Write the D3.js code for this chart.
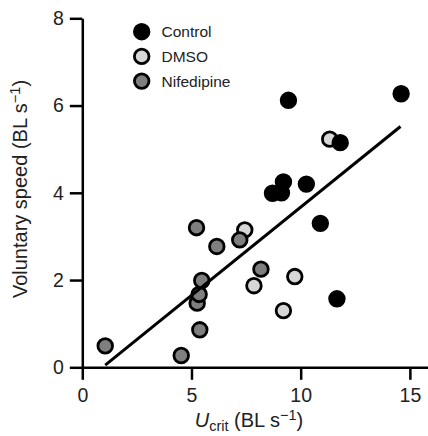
<!DOCTYPE html>
<html>
<head>
<meta charset="utf-8">
<script src="https://cdn.jsdelivr.net/npm/d3@7"></script>
<style>
  body { margin: 0; background: #fff; }
  text { font-family: "Liberation Sans", Arial, sans-serif; fill: #222; }
</style>
</head>
<body>
<svg id="chart"></svg>
<script>
// Data (Ucrit, voluntary speed), BL s-1
const controlPts = [
  [14.6, 6.27], [9.44, 6.12], [11.81, 5.15], [10.26, 4.2], [9.21, 4.25],
  [9.12, 4.0], [8.71, 3.99], [10.9, 3.3], [11.66, 1.57]
];
const dmsoPts = [
  [11.33, 5.23], [7.44, 3.15], [9.73, 2.08], [7.86, 1.87], [9.21, 1.3]
];
const nifedipinePts = [
  [1.05, 0.49], [4.53, 0.27], [5.38, 0.86], [5.26, 1.47], [5.35, 1.67],
  [5.47, 1.99], [5.23, 3.2], [6.16, 2.77], [7.21, 2.92], [8.18, 2.25]
];
const fitLine = [[1.05, 0.05], [14.57, 5.52]];
const xTicks = [0, 5, 10, 15];
const yTicks = [0, 2, 4, 6, 8];
const groups = ["Control", "DMSO", "Nifedipine"];

const W = 428, H = 436;
const margin = { top: 18.3, right: 0, bottom: 68.7, left: 82.3 };

const svg = d3.select("#chart").attr("width", W).attr("height", H);

const x = d3.scaleLinear().domain([0, 15.83]).range([margin.left, W - margin.right]);
const y = d3.scaleLinear().domain([0, 8]).range([H - margin.bottom, margin.top]);

const fills = { Control: "#000", DMSO: "#d6d6d6", Nifedipine: "#7f7f7f" };

// axes
const xAxis = svg.append("g")
  .attr("transform", `translate(0,${y(0)})`)
  .call(d3.axisBottom(x).tickValues(xTicks).tickSize(12.5).tickSizeOuter(0).tickPadding(8));
const yAxis = svg.append("g")
  .attr("transform", `translate(${x(0)},0)`)
  .call(d3.axisLeft(y).tickValues(yTicks).tickSize(12.5).tickSizeOuter(0).tickPadding(6));

[xAxis, yAxis].forEach(g => {
  g.selectAll("path, line").attr("stroke", "#000").attr("stroke-width", 2.5);
  g.selectAll("text").attr("font-size", 19.5).attr("fill", "#222")
    .attr("font-family", "Liberation Sans, Arial, sans-serif");
});

// points: DMSO first, then nifedipine, then control on top
const series = [
  { name: "DMSO", pts: dmsoPts },
  { name: "Nifedipine", pts: nifedipinePts },
  { name: "Control", pts: controlPts }
];
series.forEach(s => {
  svg.append("g").selectAll("circle")
    .data(s.pts)
    .enter()
    .append("circle")
    .attr("cx", d => x(d[0]))
    .attr("cy", d => y(d[1]))
    .attr("r", 7.3)
    .attr("fill", fills[s.name])
    .attr("stroke", "#000")
    .attr("stroke-width", 2.8);
});

// regression line
svg.append("path")
  .datum(fitLine)
  .attr("d", d3.line().x(d => x(d[0])).y(d => y(d[1])))
  .attr("stroke", "#000")
  .attr("stroke-width", 3)
  .attr("fill", "none");

// legend
const legend = svg.append("g");
groups.forEach((g, i) => {
  const cy = 31.7 + i * 24.7;
  legend.append("circle")
    .attr("cx", 141.7).attr("cy", cy).attr("r", 7.3)
    .attr("fill", fills[g]).attr("stroke", "#000").attr("stroke-width", 2.8);
  legend.append("text")
    .attr("x", 161.5).attr("y", cy).attr("dy", "0.36em")
    .attr("font-size", 15.5)
    .text(g);
});

// x label
const xl = svg.append("text")
  .attr("x", 249).attr("y", 427)
  .attr("text-anchor", "middle")
  .attr("font-size", 20);
xl.append("tspan").attr("font-style", "italic").text("U");
xl.append("tspan").attr("font-size", 14.5).attr("dy", 4).text("crit");
xl.append("tspan").attr("dy", -4).text(" (BL s");
xl.append("tspan").attr("font-size", 14.5).attr("dy", -7).text("\u22121");
xl.append("tspan").attr("dy", 7).text(")");

// y label
const yl = svg.append("text")
  .attr("transform", `translate(27,189) rotate(-90)`)
  .attr("text-anchor", "middle")
  .attr("font-size", 20);
yl.append("tspan").text("Voluntary speed (BL s");
yl.append("tspan").attr("font-size", 14.5).attr("dy", -7).text("\u22121");
yl.append("tspan").attr("dy", 7).text(")");
</script>
</body>
</html>
